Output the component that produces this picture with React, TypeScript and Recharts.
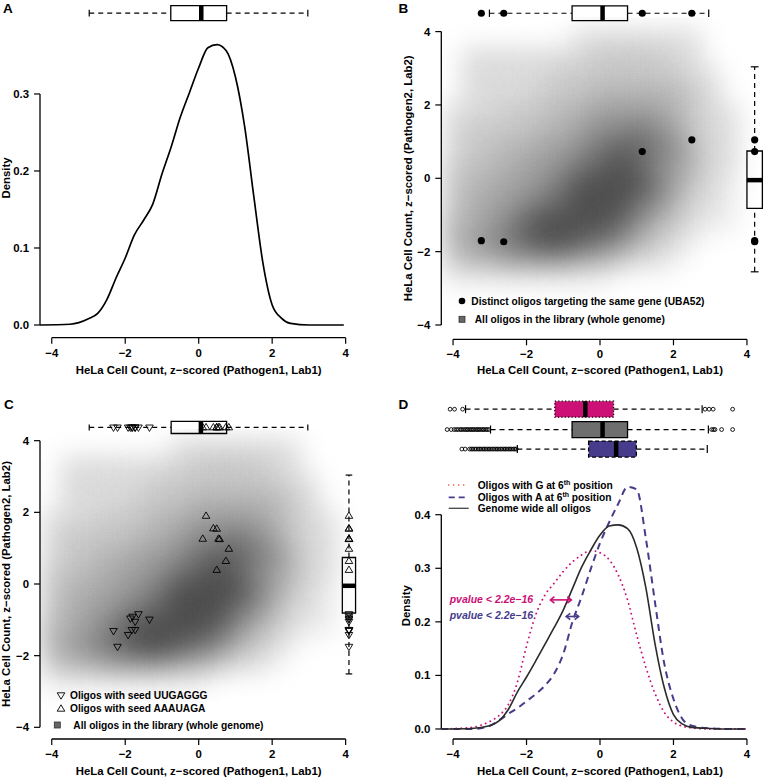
import React from 'react';
import {
  ComposedChart,
  Line,
  Scatter,
  XAxis,
  YAxis,
  ReferenceLine,
  ReferenceArea,
  ReferenceDot,
} from 'recharts';

const FONT = '"Liberation Sans", Arial, Helvetica, sans-serif';
const PINK = '#CD1076';
const PURPLE = '#473C8B';
const BOX_GRAY = '#6E6E6E';

// z-score positions where the density curves were read
const zGrid = [-4.32, -3.5, -3.0, -2.75, -2.5, -2.25, -2.0, -1.75, -1.5, -1.25, -1.0, -0.75, -0.5, -0.25, 0, 0.25, 0.5, 0.75, 1.0, 1.25, 1.5, 1.75, 2.0, 2.25, 2.5, 3.0, 3.5, 3.95];
const densityA = [0, 0.001, 0.008, 0.015, 0.033, 0.061, 0.087, 0.117, 0.136, 0.157, 0.196, 0.231, 0.27, 0.302, 0.334, 0.36, 0.364, 0.356, 0.322, 0.258, 0.167, 0.08, 0.026, 0.009, 0.002, 0, 0, 0];
const densityAll = [0, 0.001, 0.006, 0.015, 0.036, 0.069, 0.097, 0.127, 0.158, 0.189, 0.222, 0.262, 0.302, 0.334, 0.362, 0.379, 0.381, 0.374, 0.338, 0.263, 0.158, 0.077, 0.027, 0.009, 0.003, 0.001, 0, 0];
const densityG6 = [0, 0.003, 0.014, 0.025, 0.045, 0.087, 0.155, 0.213, 0.25, 0.272, 0.294, 0.312, 0.325, 0.333, 0.329, 0.316, 0.287, 0.241, 0.175, 0.115, 0.066, 0.031, 0.013, 0.005, 0.002, 0, 0, 0];
const densityA6 = [0, 0, 0.006, 0.016, 0.028, 0.039, 0.052, 0.065, 0.081, 0.103, 0.14, 0.2, 0.247, 0.299, 0.347, 0.386, 0.421, 0.452, 0.447, 0.355, 0.235, 0.122, 0.056, 0.018, 0.006, 0.001, 0, 0];

const zTicks = [-4, -2, 0, 2, 4];
const densTicksA = [0, 0.1, 0.2, 0.3];
const densTicksD = [0, 0.1, 0.2, 0.3, 0.4];

// boxplot stats: [lower whisker, Q1, median, Q3, upper whisker]
type Box5 = [number, number, number, number, number];
const boxA: Box5 = [-2.98, -0.76, 0.07, 0.76, 2.97];
const boxBTop: Box5 = [-3.01, -0.76, 0.07, 0.75, 2.96];
const boxBRight: Box5 = [-2.55, -0.82, -0.05, 0.745, 3.04];
const boxCTop: Box5 = [-2.98, -0.75, 0.06, 0.76, 2.97];
const boxCRight: Box5 = [-2.51, -0.81, -0.05, 0.74, 3.04];
const boxG6: Box5 = [-3.66, -1.23, -0.4, 0.37, 2.78];
const boxAll: Box5 = [-2.98, -0.76, 0.07, 0.75, 2.95];
const boxA6: Box5 = [-2.25, -0.31, 0.44, 0.99, 2.92];

// outliers of the panel D boxplots
const outG6 = [-4.08, -3.96, -3.74, 2.86, 2.97, 3.08, 3.61];
const outAll = [-4.16, -4.05, -3.97, -3.91, -3.86, -3.8, -3.77, -3.72, -3.67, -3.63, -3.6, -3.55, -3.51, -3.47, -3.44, -3.39, -3.35, -3.31, -3.28, -3.23, -3.19, -3.16, -3.11, -3.07, -3.03, 3.04, 3.09, 3.13, 3.31, 3.61];
const outA6 = [-3.76, -3.67, -3.55, -3.5, -3.46, -3.41, -3.37, -3.32, -3.28, -3.24, -3.19, -3.15, -3.11, -3.06, -3.02, -2.98, -2.93, -2.89, -2.84, -2.8, -2.76, -2.71, -2.67, -2.62, -2.58, -2.54, -2.49, -2.45, -2.41, -2.36, -2.32, -2.28];

// UBA52 oligos (panel B)
const uba52X = [-3.23, -2.62, 1.15, 2.5];
const uba52Y = [-1.7, -1.73, 0.73, 1.05];

// seed oligos (panel C)
const uugX = [-2.32, -2.21, -1.92, -1.82, -1.73, -1.8, -1.73, -1.64, -1.34, -1.86];
const uugY = [-1.31, -1.75, -1.42, -1.28, -1.28, -0.91, -1.05, -0.84, -0.99, -0.96];
const aaaX = [0.2, 0.4, 0.49, 0.11, 0.54, 0.57, 0.82, 0.74, 0.49];
const aaaY = [1.9, 1.55, 1.54, 1.26, 1.26, 1.25, 0.98, 0.64, 0.39];

// smoothed scatter of all oligos, darkness 0-9 on a 0.5 grid
const cloudXs = [-4, -3.5, -3, -2.5, -2, -1.5, -1, -0.5, 0, 0.5, 1, 1.5, 2, 2.5, 3, 3.5];
const cloudYs = [3.8, 3.3, 2.8, 2.3, 1.8, 1.3, 0.8, 0.3, -0.2, -0.7, -1.2, -1.7, -2.2, -2.7];
const cloudRows = [
  '0000000222222200',
  '0222222233332200',
  '0222223333333220',
  '0222233344444320',
  '2223334455554322',
  '2333344566765322',
  '2334455678876422',
  '3344556789865422',
  '3445567999975321',
  '3455678999764221',
  '4456899998643211',
  '4567899876432100',
  '3445555443221000',
  '1111111110000000',
];

const cloudCells = cloudRows.flatMap((row, j) =>
  row.split('').map((c, i) => ({ x: cloudXs[i], y: cloudYs[j], level: Number(c) })).filter(d => d.level > 0)
);

const toPts = (xs: number[], ys: number[]) => xs.map((x, i) => ({ x, y: ys[i] }));

const fmtZ = (v: number) => (v < 0 ? '\u2212' + Math.abs(v) : String(v));
const fmtD = (v: number) => v.toFixed(1);
const tickText = { fontSize: 11.4, fontWeight: 700, fill: '#000', fontFamily: FONT };
const tickLine = { stroke: '#000', strokeWidth: 1.2 };
const WHISKER_DASH = '5 4';

function axes(xDomain: number[], yDomain: number[], yTicks: number[], yFmt: (v: number) => string, yWidth: number, xHeight: number) {
  return [
    <XAxis key="xa" type="number" dataKey="x" domain={xDomain} ticks={zTicks} interval={0} tickFormatter={fmtZ}
      axisLine={false} tickLine={tickLine} tickSize={6} tickMargin={5} tick={tickText} height={xHeight} allowDataOverflow />,
    <YAxis key="ya" type="number" dataKey="y" domain={yDomain} ticks={yTicks} interval={0} tickFormatter={yFmt}
      axisLine={false} tickLine={tickLine} tickSize={6} tickMargin={5} tick={tickText} width={yWidth} allowDataOverflow />,
    <ReferenceLine key="xl" segment={[{ x: -4, y: yDomain[0] }, { x: 4, y: yDomain[0] }]} stroke="#000" strokeWidth={1.3} ifOverflow="visible" />,
    <ReferenceLine key="yl" segment={[{ x: xDomain[0], y: yTicks[0] }, { x: xDomain[0], y: yTicks[yTicks.length - 1] }]} stroke="#000" strokeWidth={1.3} ifOverflow="visible" />,
  ];
}

interface BoxStyle { fill: string; border?: string }

function hBox(key: string, s: Box5, cy: number, half: number, cap: number, st: BoxStyle) {
  const [lo, q1, med, q3, hi] = s;
  const line = { stroke: '#000', strokeWidth: 1.2, ifOverflow: 'visible' as const };
  return [
    <ReferenceLine key={key + 'w1'} segment={[{ x: lo, y: cy }, { x: q1, y: cy }]} strokeDasharray={WHISKER_DASH} {...line} />,
    <ReferenceLine key={key + 'w2'} segment={[{ x: q3, y: cy }, { x: hi, y: cy }]} strokeDasharray={WHISKER_DASH} {...line} />,
    <ReferenceLine key={key + 'c1'} segment={[{ x: lo, y: cy - cap }, { x: lo, y: cy + cap }]} {...line} />,
    <ReferenceLine key={key + 'c2'} segment={[{ x: hi, y: cy - cap }, { x: hi, y: cy + cap }]} {...line} />,
    <ReferenceArea key={key + 'b'} x1={q1} x2={q3} y1={cy - half} y2={cy + half} fill={st.fill} fillOpacity={1}
      stroke="#000" strokeWidth={1.3} strokeDasharray={st.border} ifOverflow="visible" />,
    <ReferenceLine key={key + 'm'} segment={[{ x: med, y: cy - half }, { x: med, y: cy + half }]} stroke="#000" strokeWidth={4.5} ifOverflow="visible" />,
  ];
}

function vBox(key: string, s: Box5, cx: number, half: number, cap: number) {
  const [lo, q1, med, q3, hi] = s;
  const line = { stroke: '#000', strokeWidth: 1.2, ifOverflow: 'visible' as const };
  return [
    <ReferenceLine key={key + 'w1'} segment={[{ x: cx, y: lo }, { x: cx, y: q1 }]} strokeDasharray={WHISKER_DASH} {...line} />,
    <ReferenceLine key={key + 'w2'} segment={[{ x: cx, y: q3 }, { x: cx, y: hi }]} strokeDasharray={WHISKER_DASH} {...line} />,
    <ReferenceLine key={key + 'c1'} segment={[{ x: cx - cap, y: lo }, { x: cx + cap, y: lo }]} {...line} />,
    <ReferenceLine key={key + 'c2'} segment={[{ x: cx - cap, y: hi }, { x: cx + cap, y: hi }]} {...line} />,
    <ReferenceArea key={key + 'b'} x1={cx - half} x2={cx + half} y1={q1} y2={q3} fill="#fff" fillOpacity={1}
      stroke="#000" strokeWidth={1.3} ifOverflow="visible" />,
    <ReferenceLine key={key + 'm'} segment={[{ x: cx - half, y: med }, { x: cx + half, y: med }]} stroke="#000" strokeWidth={4.5} ifOverflow="visible" />,
  ];
}

const triDown = (p: any) => (
  <polygon points={`${p.cx - 3.8},${p.cy - 2.4} ${p.cx + 3.8},${p.cy - 2.4} ${p.cx},${p.cy + 4}`} fill="none" stroke="#000" strokeWidth={0.9} />
);
const triUp = (p: any) => (
  <polygon points={`${p.cx - 3.8},${p.cy + 2.4} ${p.cx + 3.8},${p.cy + 2.4} ${p.cx},${p.cy - 4}`} fill="none" stroke="#000" strokeWidth={0.9} />
);
const dotFilled = (p: any) => <circle cx={p.cx} cy={p.cy} r={3.6} fill="#000" />;
const dotOpen = (p: any) => <circle cx={p.cx} cy={p.cy} r={1.9} fill="none" stroke="#000" strokeWidth={0.9} />;

// each grid cell is a soft gaussian blob; wide overlap keeps the cloud smooth
const BLOB_SIGMA = 14.3;
const BLOB_SUM = 3.82; // summed blob weight at a point inside a uniform region
const blobAlpha = (level: number) => {
  const target = Math.min(0.7, (19 * level) / 255);
  return Math.min(0.9, -Math.log(1 - target) / BLOB_SUM);
};
const cloudShape = (p: any) => (
  <circle cx={p.cx} cy={p.cy} r={BLOB_SIGMA * 3} fill="url(#cloudBlob)" opacity={blobAlpha(p.payload.level)} />
);

const doubleArrow = (color: string) => (p: any) => {
  const x1 = p.x1, y1 = p.y1, x2 = p.x2, y2 = p.y2;
  const h = 4;
  return (
    <g stroke={color} strokeWidth={1.6} fill="none">
      <line x1={x1} y1={y1} x2={x2} y2={y2} />
      <polyline points={`${x1 + h},${y1 - h * 0.8} ${x1},${y1} ${x1 + h},${y1 + h * 0.8}`} />
      <polyline points={`${x2 - h},${y2 - h * 0.8} ${x2},${y2} ${x2 - h},${y2 + h * 0.8}`} />
    </g>
  );
};

const panelStyle = (left: number, top: number): React.CSSProperties => ({ position: 'absolute', left, top, width: 382, height: 389 });

function PanelA() {
  const xd = [-4.32, 4.32];
  const yd = [-0.0165, 0.398];
  return (
    <div style={panelStyle(0, 0)}>
      <ComposedChart width={382} height={389} margin={{ top: 18.5, right: 24.6, bottom: 0, left: 0 }}>
        {axes(xd, yd, densTicksA, fmtD, 40, 51.3)}
        <Line data={toPts(zGrid, densityA)} dataKey="y" type="monotone" stroke="#000" strokeWidth={1.7} dot={false} isAnimationActive={false} />
        {hBox('a', boxA, 0.405, 0.0097, 0.0045, { fill: '#fff' })}
      </ComposedChart>
    </div>
  );
}

function PanelB() {
  const xd = [-4.32, 4.32];
  const yd = [-4.39, 4.39];
  const topY = 4.5;
  const rightX = 4.21;
  return (
    <div style={panelStyle(382, 0)}>
      <ComposedChart width={382} height={389} margin={{ top: 17.3, right: 5.3, bottom: 0, left: 0 }}>
        {axes(xd, yd, zTicks, fmtZ, 59.3, 49.7)}
        <Scatter data={cloudCells} dataKey="y" shape={cloudShape} isAnimationActive={false} />
        <Scatter data={toPts(uba52X, uba52Y)} dataKey="y" shape={dotFilled} isAnimationActive={false} />
        {hBox('bt', boxBTop, topY, 0.2, 0.1, { fill: '#fff' })}
        {vBox('br', boxBRight, rightX, 0.21, 0.106)}
        {uba52X.map((x, i) => <ReferenceDot key={'bt' + i} x={x} y={topY} r={3.6} fill="#000" stroke="none" ifOverflow="visible" />)}
        {uba52Y.map((y, i) => <ReferenceDot key={'br' + i} x={rightX} y={y} r={3.6} fill="#000" stroke="none" ifOverflow="visible" />)}
      </ComposedChart>
    </div>
  );
}

function PanelC() {
  const xd = [-4.32, 4.32];
  const yd = [-4.326, 4.326];
  const topY = 4.37;
  const rightX = 4.09;
  return (
    <div style={panelStyle(0, 389)}>
      <ComposedChart width={382} height={389} margin={{ top: 40, right: 24.6, bottom: 0, left: 0 }}>
        {axes(xd, yd, zTicks, fmtZ, 40, 39)}
        <Scatter data={cloudCells} dataKey="y" shape={cloudShape} isAnimationActive={false} />
        <Scatter data={toPts(uugX, uugY)} dataKey="y" shape={triDown} isAnimationActive={false} />
        <Scatter data={toPts(aaaX, aaaY)} dataKey="y" shape={triUp} isAnimationActive={false} />
        {hBox('ct', boxCTop, topY, 0.17, 0.084, { fill: '#fff' })}
        {vBox('cr', boxCRight, rightX, 0.18, 0.09)}
        {uugX.map((x, i) => <ReferenceDot key={'ctd' + i} x={x} y={topY} shape={triDown} ifOverflow="visible" />)}
        {aaaX.map((x, i) => <ReferenceDot key={'ctu' + i} x={x} y={topY} shape={triUp} ifOverflow="visible" />)}
        {uugY.map((y, i) => <ReferenceDot key={'crd' + i} x={rightX} y={y} shape={triDown} ifOverflow="visible" />)}
        {aaaY.map((y, i) => <ReferenceDot key={'cru' + i} x={rightX} y={y} shape={triUp} ifOverflow="visible" />)}
      </ComposedChart>
    </div>
  );
}

function PanelD() {
  const xd = [-4.32, 4.32];
  const yd = [-0.0187, 0.479];
  const rows = [
    { key: 'g6', box: boxG6, out: outG6, y: 0.597, fill: PINK, border: '1.2 2.2' },
    { key: 'all', box: boxAll, out: outAll, y: 0.559, fill: BOX_GRAY, border: undefined },
    { key: 'a6', box: boxA6, out: outA6, y: 0.5226, fill: PURPLE, border: '4 2.5' },
  ];
  return (
    <div style={panelStyle(382, 389)}>
      <ComposedChart width={382} height={389} margin={{ top: 83.4, right: 5.3, bottom: 0, left: 0 }}>
        {axes(xd, yd, densTicksD, fmtD, 59.3, 39)}
        <Line data={toPts(zGrid, densityG6)} dataKey="y" type="monotone" stroke={PINK} strokeWidth={1.9}
          strokeDasharray="0.01 5" strokeLinecap="round" dot={false} isAnimationActive={false} />
        <Line data={toPts(zGrid, densityA6)} dataKey="y" type="monotone" stroke={PURPLE} strokeWidth={2}
          strokeDasharray="7 5" dot={false} isAnimationActive={false} />
        <Line data={toPts(zGrid, densityAll)} dataKey="y" type="monotone" stroke="#2B2B2B" strokeWidth={1.6} dot={false} isAnimationActive={false} />
        {rows.flatMap(r => hBox('d' + r.key, r.box, r.y, 0.0149, 0.0075, { fill: r.fill, border: r.border }))}
        {rows.flatMap(r => r.out.map((x, i) => (
          <ReferenceDot key={'o' + r.key + i} x={x} y={r.y} shape={dotOpen} ifOverflow="visible" />
        )))}
        <ReferenceLine segment={[{ x: -1.35, y: 0.241 }, { x: -0.78, y: 0.241 }]} shape={doubleArrow(PINK)} ifOverflow="visible" />
        <ReferenceLine segment={[{ x: -0.92, y: 0.21 }, { x: -0.58, y: 0.21 }]} shape={doubleArrow(PURPLE)} ifOverflow="visible" />
      </ComposedChart>
    </div>
  );
}

const txt = { fontFamily: FONT, fontWeight: 700, fill: '#000' } as const;

function Sup({ pre }: { pre: string }) {
  return (
    <>
      <tspan>{pre}</tspan>
      <tspan dy={-4} fontSize={7}>th</tspan>
      <tspan dy={4}> position</tspan>
    </>
  );
}

function Overlay() {
  const xTitle = 'HeLa Cell Count, z\u2212scored (Pathogen1, Lab1)';
  const yTitle2 = 'HeLa Cell Count, z\u2212scored (Pathogen2, Lab2)';
  return (
    <svg width={764} height={778} style={{ position: 'absolute', left: 0, top: 0, pointerEvents: 'none' }}>
      {/* panel letters */}
      <text x={3} y={13} fontSize={13.5} {...txt}>A</text>
      <text x={398.5} y={13} fontSize={13.5} {...txt}>B</text>
      <text x={4} y={408.5} fontSize={13.5} {...txt}>C</text>
      <text x={398.5} y={408.5} fontSize={13.5} {...txt}>D</text>

      {/* axis titles */}
      <text x={198.7} y={374} fontSize={11.4} textAnchor="middle" {...txt}>{xTitle}</text>
      <text x={600} y={374} fontSize={11.4} textAnchor="middle" {...txt}>{xTitle}</text>
      <text x={198.7} y={775} fontSize={11.4} textAnchor="middle" {...txt}>{xTitle}</text>
      <text x={600} y={775} fontSize={11.4} textAnchor="middle" {...txt}>{xTitle}</text>
      <text x={10.1} y={178} fontSize={11.4} textAnchor="middle" transform="rotate(-90 10.1 178)" {...txt}>Density</text>
      <text x={412.1} y={178.3} fontSize={11.4} textAnchor="middle" transform="rotate(-90 412.1 178.3)" {...txt}>{yTitle2}</text>
      <text x={10.1} y={584} fontSize={11.4} textAnchor="middle" transform="rotate(-90 10.1 584)" {...txt}>{yTitle2}</text>
      <text x={410.1} y={605.7} fontSize={11.4} textAnchor="middle" transform="rotate(-90 410.1 605.7)" {...txt}>Density</text>

      {/* legend B */}
      <circle cx={462} cy={301} r={3.3} fill="#000" />
      <text x={471.3} y={304.6} fontSize={10.2} {...txt}>Distinct oligos targeting the same gene (UBA52)</text>
      <rect x={459} y={316.3} width={6} height={6} fill="#666" stroke="#333" strokeWidth={0.8} />
      <text x={474.7} y={322.9} fontSize={10.2} {...txt}>All oligos in the library (whole genome)</text>

      {/* legend C */}
      {triDown({ cx: 61, cy: 695.2 })}
      <text x={70} y={699.3} fontSize={10.2} {...txt}>Oligos with seed UUGAGGG</text>
      {triUp({ cx: 61, cy: 708.8 })}
      <text x={70} y={711.9} fontSize={10.2} {...txt}>Oligos with seed AAAUAGA</text>
      <rect x={54.3} y={722} width={6} height={6} fill="#666" stroke="#333" strokeWidth={0.8} />
      <text x={73.3} y={728.6} fontSize={10.2} {...txt}>All oligos in the library (whole genome)</text>

      {/* legend D */}
      <line x1={448.7} y1={485} x2={468.7} y2={485} stroke="#E2473F" strokeWidth={1.6} strokeDasharray="0.01 5" strokeLinecap="round" />
      <line x1={448.7} y1={497.3} x2={468.7} y2={497.3} stroke={PURPLE} strokeWidth={1.8} strokeDasharray="6 4" />
      <line x1={448.7} y1={508.3} x2={468.7} y2={508.3} stroke="#444" strokeWidth={1.3} />
      <text x={477.7} y={488.6} fontSize={10.2} {...txt}><Sup pre="Oligos with G at 6" /></text>
      <text x={477.7} y={500.9} fontSize={10.2} {...txt}><Sup pre="Oligos with A at 6" /></text>
      <text x={477.7} y={511.9} fontSize={10.2} {...txt}>Genome wide all oligos</text>

      {/* p-values */}
      <text x={449.7} y={603.4} fontSize={10.5} fontStyle="italic" fontFamily={FONT} fontWeight={700} fill={PINK}>pvalue &lt; 2.2e{'\u2212'}16</text>
      <text x={449.7} y={619.4} fontSize={10.5} fontStyle="italic" fontFamily={FONT} fontWeight={700} fill={PURPLE}>pvalue &lt; 2.2e{'\u2212'}16</text>
    </svg>
  );
}

export default function App() {
  return (
    <div style={{ position: 'absolute', left: 0, top: 0, width: 764, height: 778, background: '#fff', overflow: 'hidden' }}>
      <svg width={0} height={0} style={{ position: 'absolute' }}>
        <defs>
          <radialGradient id="cloudBlob" cx="50%" cy="50%" r="50%">
            <stop offset="0" stopColor="#000" stopOpacity={1} />
            <stop offset="0.1667" stopColor="#000" stopOpacity={0.8825} />
            <stop offset="0.3333" stopColor="#000" stopOpacity={0.6065} />
            <stop offset="0.5" stopColor="#000" stopOpacity={0.3247} />
            <stop offset="0.6667" stopColor="#000" stopOpacity={0.1353} />
            <stop offset="0.8333" stopColor="#000" stopOpacity={0.0439} />
            <stop offset="1" stopColor="#000" stopOpacity={0} />
          </radialGradient>
        </defs>
      </svg>
      <PanelA />
      <PanelB />
      <PanelC />
      <PanelD />
      <Overlay />
    </div>
  );
}
